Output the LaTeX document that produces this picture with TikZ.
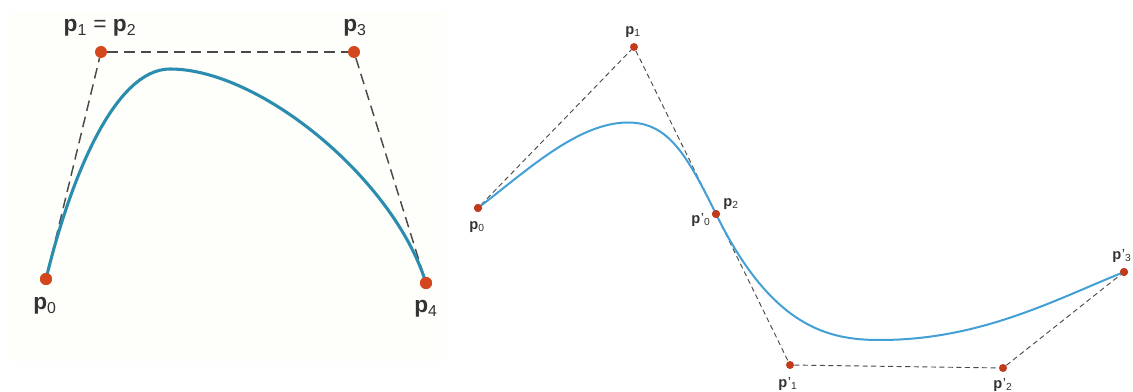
\documentclass[tikz,border=0pt]{standalone}
\usepackage{fontspec}
\setmainfont{Liberation Sans}
\definecolor{dotL}{HTML}{D4471E}
\definecolor{dotR}{HTML}{C23A1B}
\definecolor{curveL}{HTML}{2A8DAF}
\definecolor{curveR}{HTML}{42A0D6}
\definecolor{dashc}{HTML}{4A4A4A}
\definecolor{labc}{HTML}{333333}
\definecolor{panelbg}{HTML}{FEFEFA}
\newcommand{\pl}[1]{\textbf{p}\textsubscript{#1}}
\newcommand{\plp}[1]{\textbf{p}\kern0.03em’\textsubscript{#1}}
\tikzset{
  dotbig/.style={circle, fill=dotL, draw=none, inner sep=0pt, minimum size=9pt},
  dotsmall/.style={circle, fill=dotR, draw=none, inner sep=0pt, minimum size=6pt},
  ctrlL/.style={draw=dashc, line width=1.1pt, dash pattern=on 8pt off 4.5pt},
  ctrlR/.style={draw=dashc, line width=0.7pt, dash pattern=on 3.8pt off 2.6pt},
  curvebig/.style={draw=curveL, line width=2.3pt},
  curvesmall/.style={draw=curveR, line width=1.5pt},
  labbig/.style={inner sep=0pt, text=labc, font=\fontsize{17}{20}\selectfont},
  labsmall/.style={inner sep=0pt, text=labc, font=\fontsize{11}{13}\selectfont},
}
\begin{document}
\begin{tikzpicture}[x=0.75pt, y=-0.75pt]
\path[use as bounding box, fill=white] (0,0) rectangle (1133,392);
\path[fill=panelbg] (10,12) rectangle (446,362);

% ---------- left panel ----------
\node[dotbig] (a0) at (46,279) {};
\node[dotbig] (a1) at (101,52) {};
\node[dotbig] (a3) at (354,52) {};
\node[dotbig] (a4) at (426,283) {};
\coordinate (apk) at (170,69);

\draw[ctrlL] (a0) -- (a1);
\draw[ctrlL] (a1) -- (a3);
\draw[ctrlL] (a3) -- (a4);

\draw[curvebig] (a0.center) .. controls (70.75,176.8) and (115,69) .. (apk)
                .. controls (260,69) and (393.6,179) .. (a4.center);
\node[dotbig] at (a0) {};
\node[dotbig] at (a4) {};

\node[labbig] (la12) at (100,28) {\pl{1} = \pl{2}};
\node[labbig] (la3) at (355,28) {\pl{3}};
\node[labbig] (la0) at (45,306) {\pl{0}};
\node[labbig] (la4) at (426,309) {\pl{4}};

% ---------- right panel ----------
\node[dotsmall] (b0) at (478,208) {};
\node[dotsmall] (b1) at (634,47) {};
\node[dotsmall] (b2) at (716,214) {};
\node[dotsmall] (c1) at (790,365) {};
\node[dotsmall] (c2) at (1003,368) {};
\node[dotsmall] (c3) at (1124,272) {};
\coordinate (bpk) at (628,122.5);
\coordinate (cmin) at (880,340);

\draw[ctrlR] (b0) -- (b1);
\draw[ctrlR] (b1) -- (b2);
\draw[ctrlR] (b2) -- (c1);
\draw[ctrlR] (c1) -- (c2);
\draw[ctrlR] (c2) -- (c3);

\draw[curvesmall] (b0.center) .. controls (527,170.5) and (578,122.5) .. (bpk)
                  .. controls (668,122.5) and (686.5,154) .. (b2.center)
                  .. controls (772.5,329) and (830,340) .. (cmin)
                  .. controls (980,340) and (1054,300.3) .. (c3.center);
\node[dotsmall] at (b0) {};
\node[dotsmall] at (b2) {};
\node[dotsmall] at (c3) {};

\node[labsmall] (lb1) at (633,32) {\pl{1}};
\node[labsmall] (lb0) at (477,227) {\pl{0}};
\node[labsmall] (lb2) at (731,204) {\pl{2}};
\node[labsmall] (lc0) at (701,220) {\plp{0}};
\node[labsmall] (lc3) at (1122,256) {\plp{3}};
\node[labsmall] (lc1) at (788,384) {\plp{1}};
\node[labsmall] (lc2) at (1003,385) {\plp{2}};
\end{tikzpicture}
\end{document}
